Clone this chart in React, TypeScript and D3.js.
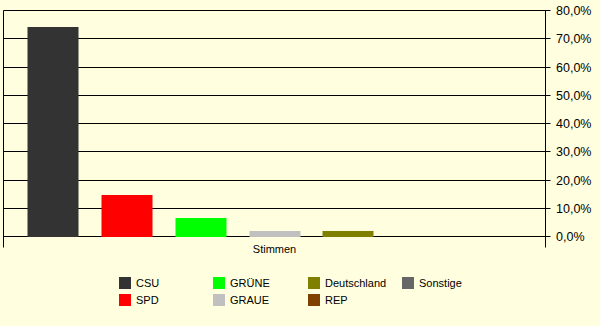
import React from "react";
import * as d3 from "d3";

const categories = ["Stimmen"];
const seriesNames = ["CSU", "SPD", "GRÜNE", "GRAUE", "Deutschland", "REP", "Sonstige"];
const seriesValues = [74.2, 14.8, 6.4, 2.1, 2.1, 0, 0];
const seriesColors = ["#333333", "#FF0000", "#00FF00", "#C0C0C0", "#808000", "#804000", "#666666"];
const yTicks = [0, 10, 20, 30, 40, 50, 60, 70, 80];

const W = 600;
const H = 326;
const left = 3.5;
const right = 545.5;
const top = 10.5;
const bottom = 236.5;

export default function App() {
  const x0 = d3.scaleBand<string>().domain(categories).range([left, right]).padding(0);
  const x1 = d3
    .scaleBand<string>()
    .domain(seriesNames)
    .range([0, x0.bandwidth()])
    .paddingInner(0.311)
    .paddingOuter(0.324);
  const y = d3.scaleLinear().domain([0, 80]).range([bottom, top]);
  const fmt = (v: number) => v.toFixed(1).replace(".", ",") + "%";

  const legendCols = [119, 213, 308, 402];
  const legendRows = [277, 294];

  return (
    <svg
      width={W}
      height={H}
      style={{ position: "absolute", left: 0, top: 0, display: "block" }}
      fontFamily="'Liberation Sans', Arial, sans-serif"
    >
      <rect x={0} y={0} width={W} height={H} fill="#FFFFE0" />
      {/* gridlines */}
      {yTicks.map((t) => {
        const yy = Math.round(y(t) - 0.5) + 0.5;
        return (
          <line key={"g" + t} x1={left} x2={right + 5} y1={yy} y2={yy} stroke="#000" strokeWidth={1} />
        );
      })}
      {/* bars */}
      {categories.map((c) => (
        <g key={c} transform={`translate(${x0(c)},0)`}>
          {seriesNames.map((s, i) =>
            seriesValues[i] > 0 ? (
              <rect
                key={s}
                x={Math.round(x1(s)!)}
                y={Math.round(y(seriesValues[i]))}
                width={Math.round(x1.bandwidth())}
                height={Math.round(y(0)) - Math.round(y(seriesValues[i]))}
                fill={seriesColors[i]}
              />
            ) : null
          )}
        </g>
      ))}
      {/* axes lines */}
      <line x1={left} x2={left} y1={top} y2={247.5} stroke="#000" />
      <line x1={right} x2={right} y1={top} y2={247.5} stroke="#000" />
      {/* y tick labels */}
      {yTicks.map((t) => (
        <text key={"l" + t} x={556} y={y(t) + 4.5} fontSize={12.5} fill="#000">
          {fmt(t)}
        </text>
      ))}
      {/* category label */}
      {categories.map((c) => (
        <text key={"c" + c} x={x0(c)! + x0.bandwidth() / 2} y={253} fontSize={11} textAnchor="middle" fill="#000">
          {c}
        </text>
      ))}
      {/* legend */}
      {seriesNames.map((s, i) => {
        const col = Math.floor(i / 2);
        const row = i % 2;
        const lx = legendCols[col];
        const ly = legendRows[row];
        return (
          <g key={"lg" + s}>
            <rect x={lx} y={ly} width={12} height={12} fill={seriesColors[i]} />
            <text x={lx + 17} y={ly + 10} fontSize={11} fill="#000">
              {s}
            </text>
          </g>
        );
      })}
    </svg>
  );
}
